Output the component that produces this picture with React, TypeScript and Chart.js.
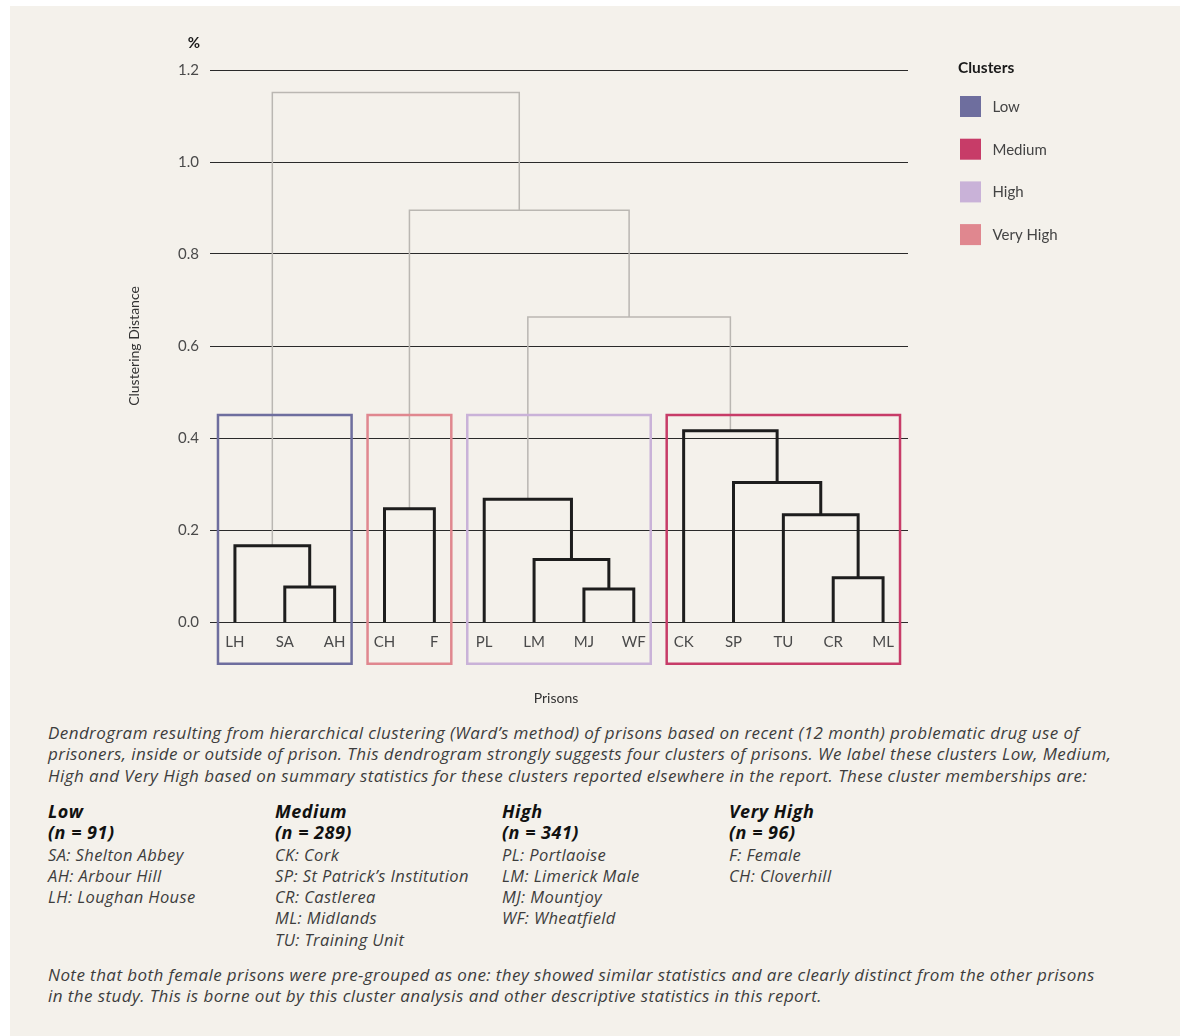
import React, { useEffect, useRef } from "react";
import { Chart, registerables } from "chart.js";

Chart.register(...registerables);

// ---------- data ----------
const leafLabels = ["LH", "SA", "AH", "CH", "F", "PL", "LM", "MJ", "WF", "CK", "SP", "TU", "CR", "ML"];
// merge k joins mergeLeft[k] and mergeRight[k]; index < 14 is a leaf, 14+j is the node created by merge j
const mergeLeft = [1, 0, 3, 7, 6, 5, 12, 11, 10, 9, 19, 16, 15];
const mergeRight = [2, 14, 4, 8, 17, 18, 13, 20, 21, 22, 23, 24, 25];
const mergeHeights = [0.076, 0.166, 0.246, 0.072, 0.136, 0.267, 0.096, 0.233, 0.303, 0.416, 0.663, 0.895, 1.151];

const clusterNames = ["Low", "Medium", "High", "Very High"];
const clusterColors = ["#6e6e9e", "#c73c68", "#c9b2d8", "#e0878f"];
const clusterFirstLeaf = [0, 9, 5, 3];
const clusterLastLeaf = [2, 13, 8, 4];
const clusterCut = 0.45;
const clusterBoxBottom = -0.091;

const yTickValues = [0, 0.2, 0.4, 0.6, 0.8, 1.0, 1.2];

const captionLines = [
  "Dendrogram resulting from hierarchical clustering (Ward\u2019s method) of prisons based on recent (12 month) problematic drug use of",
  "prisoners, inside or outside of prison. This dendrogram strongly suggests four clusters of prisons. We label these clusters Low, Medium,",
  "High and Very High based on summary statistics for these clusters reported elsewhere in the report. These cluster memberships are:",
];
const memberHeads = ["Low", "Medium", "High", "Very High"];
const memberCounts = ["(n = 91)", "(n = 289)", "(n = 341)", "(n = 96)"];
const memberLists = [
  ["SA: Shelton Abbey", "AH: Arbour Hill", "LH: Loughan House"],
  ["CK: Cork", "SP: St Patrick\u2019s Institution", "CR: Castlerea", "ML: Midlands", "TU: Training Unit"],
  ["PL: Portlaoise", "LM: Limerick Male", "MJ: Mountjoy", "WF: Wheatfield"],
  ["F: Female", "CH: Cloverhill"],
];
const noteLines = [
  "Note that both female prisons were pre-grouped as one: they showed similar statistics and are clearly distinct from the other prisons",
  "in the study. This is borne out by this cluster analysis and other descriptive statistics in this report.",
];

const FONT = "Lato, 'Open Sans', sans-serif";
const TEXT_FONT = "'Open Sans', Lato, sans-serif";

export default function App() {
  const ref = useRef<HTMLCanvasElement | null>(null);

  useEffect(() => {
    const canvas = ref.current;
    if (!canvas) return;

    // node positions derived from the merge tree
    const nodeX: number[] = leafLabels.map((_, i) => i);
    const nodeY: number[] = leafLabels.map(() => 0);
    mergeHeights.forEach((h, k) => {
      nodeX.push((nodeX[mergeLeft[k]] + nodeX[mergeRight[k]]) / 2);
      nodeY.push(h);
    });

    const linkSets = mergeHeights.map((h, k) => {
      const a = mergeLeft[k];
      const b = mergeRight[k];
      const inCluster = h < clusterCut;
      return {
        label: "link" + k,
        data: [
          { x: nodeX[a], y: nodeY[a] },
          { x: nodeX[a], y: h },
          { x: nodeX[b], y: h },
          { x: nodeX[b], y: nodeY[b] },
        ],
        borderColor: inCluster ? "#1d1d1d" : "#bab7b2",
        borderWidth: inCluster ? 3 : 1.5,
        pointRadius: 0,
        fill: false,
        tension: 0,
        borderJoinStyle: "miter" as const,
        clip: false as any,
        order: 1,
      };
    });

    const pad = 0.34;
    const boxSets = clusterNames.map((name, c) => {
      const x0 = clusterFirstLeaf[c] - pad;
      const x1 = clusterLastLeaf[c] + pad;
      return {
        label: name,
        data: [
          { x: x0, y: clusterBoxBottom },
          { x: x0, y: clusterCut },
          { x: x1, y: clusterCut },
          { x: x1, y: clusterBoxBottom },
          { x: x0, y: clusterBoxBottom },
        ],
        borderColor: clusterColors[c],
        borderWidth: 2.5,
        pointRadius: 0,
        fill: false,
        tension: 0,
        borderJoinStyle: "miter" as const,
        borderCapStyle: "square" as const,
        clip: false as any,
        order: 0,
      };
    });

    const decor = {
      id: "decor",
      afterDraw(chart: any) {
        const ctx = chart.ctx as CanvasRenderingContext2D;
        const area = chart.chartArea;
        ctx.save();
        // "%" unit
        ctx.fillStyle = "#1a1a1a";
        ctx.font = `bold 15px ${FONT}`;
        ctx.textAlign = "right";
        ctx.textBaseline = "middle";
        ctx.fillText("%", area.left - 10, 37);
        // y title
        ctx.save();
        ctx.translate(124, (area.top + area.bottom) / 2);
        ctx.rotate(-Math.PI / 2);
        ctx.font = `14px ${FONT}`;
        ctx.fillStyle = "#333";
        ctx.textAlign = "center";
        ctx.textBaseline = "middle";
        ctx.fillText("Clustering Distance", 0, 0);
        ctx.restore();
        // x title
        ctx.font = `14px ${FONT}`;
        ctx.fillStyle = "#333";
        ctx.textAlign = "center";
        ctx.textBaseline = "middle";
        ctx.fillText("Prisons", 546, 692);
        // legend
        ctx.textAlign = "left";
        ctx.fillStyle = "#1a1a1a";
        ctx.font = `bold 15.5px ${FONT}`;
        ctx.fillText("Clusters", 948, 62);
        clusterNames.forEach((name, c) => {
          const top = 90 + c * 42.7;
          ctx.fillStyle = clusterColors[c];
          ctx.fillRect(950, top, 21, 21);
          ctx.fillStyle = "#444";
          ctx.font = `15px ${FONT}`;
          ctx.fillText(name, 982.5, top + 11);
        });
        ctx.restore();
      },
    };

    const chart = new Chart(canvas, {
      type: "line",
      data: { datasets: [...boxSets, ...linkSets] as any },
      options: {
        responsive: false,
        animation: false,
        devicePixelRatio: 1,
        layout: { padding: { top: 64, right: 272, bottom: 52, left: 0 } },
        plugins: { legend: { display: false }, tooltip: { enabled: false } },
        events: [],
        scales: {
          x: {
            type: "linear",
            min: -0.5,
            max: 13.5,
            afterBuildTicks: (scale: any) => {
              scale.ticks = leafLabels.map((_, i) => ({ value: i }));
            },
            afterFit: (scale: any) => {
              scale.height = 44;
            },
            grid: { display: false, drawTicks: false },
            border: { display: false },
            ticks: {
              autoSkip: false,
              maxRotation: 0,
              padding: 11,
              color: "#4a4a4a",
              font: { family: FONT, size: 15 },
              callback: (v: any) => leafLabels[Math.round(Number(v))] ?? "",
            },
          },
          y: {
            type: "linear",
            min: 0,
            max: 1.2,
            afterBuildTicks: (scale: any) => {
              scale.ticks = yTickValues.map((v) => ({ value: v }));
            },
            afterFit: (scale: any) => {
              scale.width = 200;
            },
            grid: { color: "#2a2a2a", lineWidth: 1, drawTicks: false },
            border: { display: false },
            ticks: {
              padding: 11,
              color: "#4a4a4a",
              font: { family: FONT, size: 15 },
              callback: (v: any) => Number(v).toFixed(1),
            },
          },
        },
      },
      plugins: [decor],
    } as any);

    return () => chart.destroy();
  }, []);

  const textBase: React.CSSProperties = {
    position: "absolute",
    left: 38,
    fontFamily: TEXT_FONT,
    fontStyle: "italic",
    fontSize: 17,
    lineHeight: "21.3px",
    color: "#3d3d3d",
    whiteSpace: "nowrap",
    letterSpacing: "0.42px",
  };

  return (
    <div
      style={{
        position: "absolute",
        left: 10,
        top: 6,
        width: 1170,
        height: 1030,
        background: "#f4f1eb",
        overflow: "hidden",
      }}
    >
      <canvas ref={ref} width={1170} height={712} style={{ display: "block", width: 1170, height: 712 }} />
      <div style={{ ...textBase, top: 716 }}>
        {captionLines.map((l, i) => (
          <div key={i}>{l}</div>
        ))}
      </div>
      {memberHeads.map((h, c) => (
        <div key={h} style={{ ...textBase, top: 795, left: 38 + c * 227, fontSize: 16.5, letterSpacing: "0.4px" }}>
          <div style={{ fontWeight: 700, color: "#111", fontSize: 18, letterSpacing: "0.5px" }}>{h}</div>
          <div style={{ fontWeight: 700, color: "#111", fontSize: 18, letterSpacing: "0.5px" }}>{memberCounts[c]}</div>
          {memberLists[c].map((m) => (
            <div key={m}>{m}</div>
          ))}
        </div>
      ))}
      <div style={{ ...textBase, top: 958 }}>
        {noteLines.map((l, i) => (
          <div key={i}>{l}</div>
        ))}
      </div>
    </div>
  );
}
